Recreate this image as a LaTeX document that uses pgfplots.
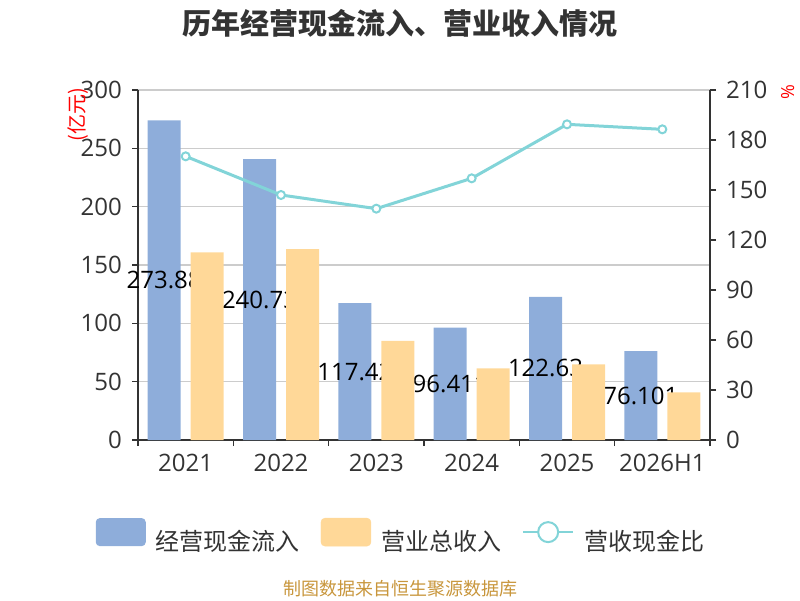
\documentclass[border=0pt]{standalone}
\usepackage{fontspec}
\setmainfont{Open Sans}
\newfontfamily\cjk{Noto Sans CJK SC}
\usepackage{pgfplots}
\usepackage{pgfplotstable}
\pgfplotsset{compat=1.18}
\definecolor{cashblue}{HTML}{8EADDA}
\definecolor{revorange}{HTML}{FFD898}
\definecolor{ratioteal}{HTML}{82D4D8}
\definecolor{gridgray}{HTML}{CCCCCC}
\definecolor{axisdark}{HTML}{333333}
\definecolor{footgold}{HTML}{C8963C}

\pgfplotstableread{
x cash rev ratio label
0 273.88 160.9 170.2 273.88
1 240.73 163.7 147.0 240.73
2 117.42 84.9 138.8 117.42
3 96.41 61.4 157.0 96.411
4 122.63 64.9 189.4 122.63
5 76.10 40.9 186.4 76.101
}\data

\pgfplotsset{
  common/.style={
    at={(138pt,160pt)}, anchor=south west,
    width=572pt, height=350pt, scale only axis,
    xmin=-0.5, xmax=5.5,
    tick align=outside, major tick length=6pt,
    axis line style={draw=axisdark, line width=1.5pt},
    tick style={draw=axisdark, line width=1.5pt},
    ticklabel style={font=\fontsize{24}{28}\selectfont, text=axisdark},
    /pgf/number format/assume math mode=true,
  }
}

\begin{document}
\begin{tikzpicture}
\useasboundingbox (0,0) rectangle (800pt,600pt);
\begin{axis}[
  common,
  ymin=0, ymax=300, ytick={0,50,...,300},
  axis x line*=bottom, axis y line*=left,
  xtick={-0.5,0.5,1.5,2.5,3.5,4.5,5.5},
  xticklabels={,,,,,,},
  extra x ticks={0,1,2,3,4,5},
  extra x tick labels={2021,2022,2023,2024,2025,2026H1},
  extra x tick style={major tick length=0pt, xticklabel style={inner sep=0pt, yshift=-14pt}},
  yticklabel style={inner sep=0pt, xshift=-10pt},
  ymajorgrids, major grid style={draw=gridgray, line width=1.5pt},
  ylabel={\cjk (亿元)},
  ylabel style={at={(axis description cs:-0.105,0.929)}, anchor=center, text=red, font=\fontsize{20}{22}\selectfont, inner sep=0pt},
  legend columns=3,
  legend cell align=left,
  legend style={at={(0.458,-0.2714)}, anchor=center, draw=none, fill=none,
    font=\fontsize{24}{28}\selectfont\cjk, text=axisdark,
    nodes={inner sep=0pt},
    /tikz/every odd column/.append style={column sep=10pt},
    /tikz/every even column/.append style={column sep=21pt}},
]
\addplot[ybar, bar width=33pt, bar shift=-21.5pt, fill=cashblue, draw=none,
  nodes near coords, point meta=explicit symbolic,
  visualization depends on={\thisrow{cash}*350/600 \as \lblshift},
  every node near coord/.append style={anchor=center, xshift=-21.5pt, yshift={-\lblshift*1pt}, font=\fontsize{24}{28}\selectfont, text=black, inner sep=0pt},
  legend image code/.code={\fill[cashblue, rounded corners=4pt] (0pt,-5pt) rectangle (50pt,23pt);}
] table[x=x, y=cash, meta=label] {\data};
\addlegendentry{经营现金流入}
\addlegendimage{legend image code/.code={\fill[revorange, rounded corners=4pt] (0pt,-5pt) rectangle (50pt,23pt);}}
\addlegendentry{营业总收入}
\addlegendimage{legend image code/.code={\draw[ratioteal, line width=2pt] (0pt,9pt) -- (50pt,9pt); \draw[ratioteal, line width=2pt, fill=white] (25pt,9pt) circle (10pt);}}
\addlegendentry{营收现金比}
\end{axis}
\begin{axis}[
  common,
  ymin=0, ymax=300,
  hide axis,
]
\addplot[ybar, bar width=33pt, bar shift=21.5pt, fill=revorange, draw=none] table[x=x, y=rev] {\data};
\end{axis}
\begin{axis}[
  common,
  ymin=0, ymax=210, ytick={0,30,...,210},
  axis y line*=right, axis x line=none,
  yticklabel style={inner sep=0pt, xshift=10pt},
  ylabel={\%},
  ylabel style={at={(axis description cs:1.136,0.994)}, anchor=center, text=red, font=\fontsize{18}{20}\selectfont, inner sep=0pt},
]
\addplot[color=ratioteal, line width=3pt, mark=*, mark size=4pt,
  mark options={fill=white, draw=ratioteal, line width=2pt}] table[x=x, y=ratio] {\data};
\end{axis}
\node[text=axisdark, font=\fontsize{29}{32}\selectfont\cjk\bfseries] at (400pt,577pt) {历年经营现金流入、营业收入情况};
\node[text=footgold, font=\fontsize{18}{20}\selectfont\cjk] at (400pt,11pt) {制图数据来自恒生聚源数据库};
\end{tikzpicture}
\end{document}
